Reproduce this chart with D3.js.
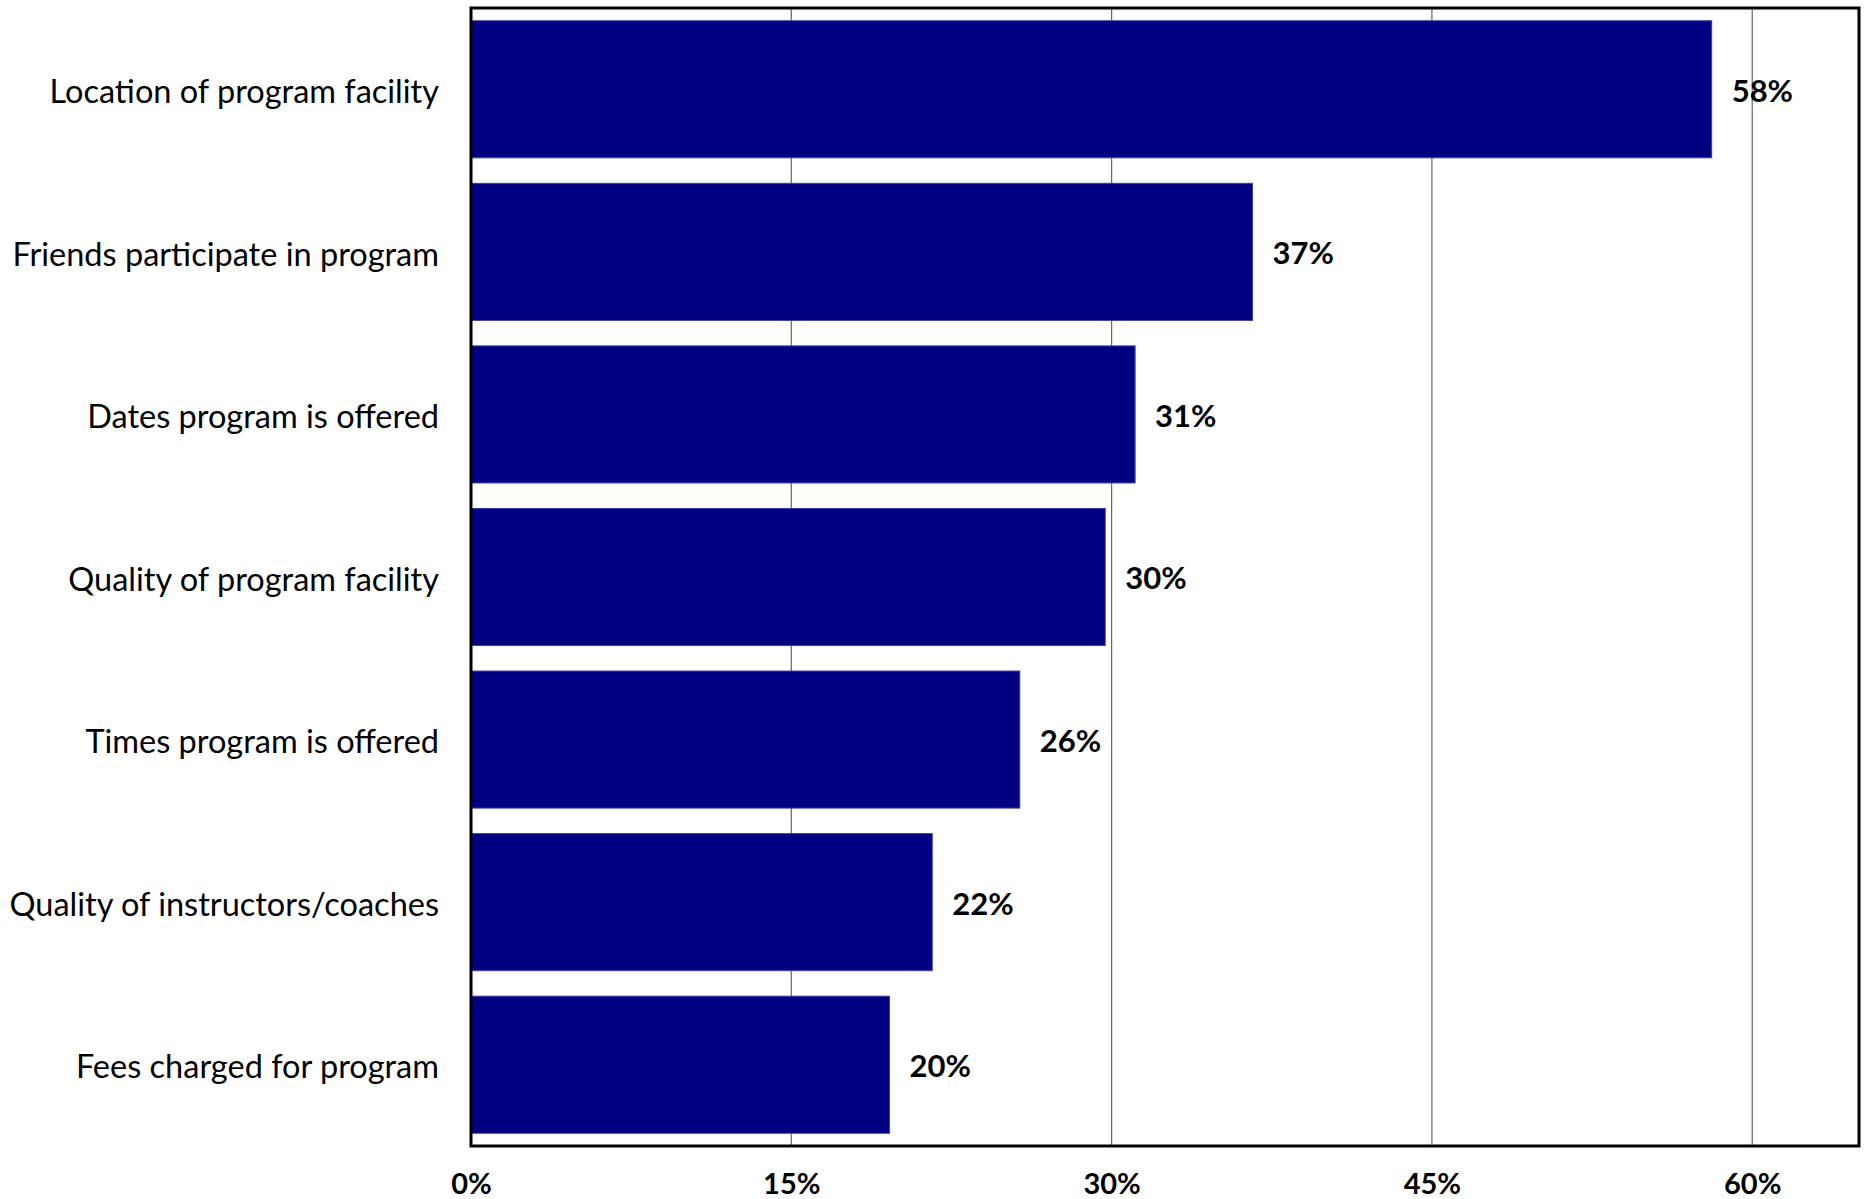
<!DOCTYPE html>
<html>
<head>
<meta charset="utf-8">
<script src="https://cdn.jsdelivr.net/npm/d3@7"></script>
<style>
  html, body { margin: 0; padding: 0; background: #ffffff; }
  svg { display: block; }
  text { font-family: Lato, "Open Sans", sans-serif; fill: #000; }
</style>
</head>
<body>
<svg id="chart" width="1864" height="1199"></svg>
<script>
// Reasons for choosing a program (share of respondents, %)
const categories = [
  "Location of program facility",
  "Friends participate in program",
  "Dates program is offered",
  "Quality of program facility",
  "Times program is offered",
  "Quality of instructors/coaches",
  "Fees charged for program"
];
const shares = [58.1, 36.6, 31.1, 29.7, 25.7, 21.6, 19.6];
const tickValues = [0, 15, 30, 45, 60];

const data = categories.map((c, i) => ({ category: c, value: shares[i] }));

const svg = d3.select("#chart");
const plot = { left: 471, right: 1859, top: 8, bottom: 1146 };

const x = d3.scaleLinear().domain([0, 65]).range([plot.left, plot.right]);
const y = d3.scaleBand()
  .domain(categories)
  .range([plot.top, plot.bottom])
  .paddingInner(0.157)
  .paddingOuter(0.0785);

const pct = v => d3.format(".0f")(v) + "%";

// vertical gridlines behind the bars
svg.append("g")
  .selectAll("line")
  .data(tickValues.filter(t => t > 0))
  .join("line")
  .attr("x1", d => x(d)).attr("x2", d => x(d))
  .attr("y1", plot.top).attr("y2", plot.bottom)
  .attr("stroke", "#666666")
  .attr("stroke-width", 1.2);

// bars
svg.append("g")
  .selectAll("rect")
  .data(data)
  .join("rect")
  .attr("x", x(0))
  .attr("y", d => y(d.category))
  .attr("width", d => x(d.value) - x(0))
  .attr("height", y.bandwidth())
  .attr("fill", "#000080")
  .attr("stroke", "#3a3aa8")
  .attr("stroke-width", 1);

// value labels
svg.append("g")
  .selectAll("text")
  .data(data)
  .join("text")
  .attr("x", d => x(d.value) + 20)
  .attr("y", d => y(d.category) + y.bandwidth() / 2)
  .attr("dy", "0.4em")
  .attr("font-size", 31)
  .attr("font-weight", "bold")
  .text(d => pct(d.value));

// category axis labels
const yAxis = d3.axisLeft(y).tickSize(0).tickPadding(32);
const gy = svg.append("g")
  .attr("transform", `translate(${plot.left},0)`)
  .call(yAxis);
gy.select(".domain").remove();
gy.selectAll("text")
  .attr("font-size", 32.5)
  .attr("dy", "0.42em")
  .attr("font-family", "Lato, 'Open Sans', sans-serif")
  .attr("fill", "#000");

// value axis tick labels
const xAxis = d3.axisBottom(x).tickValues(tickValues).tickSize(0).tickPadding(27).tickFormat(pct);
const gx = svg.append("g")
  .attr("transform", `translate(0,${plot.bottom})`)
  .call(xAxis);
gx.select(".domain").remove();
gx.selectAll("text")
  .attr("font-size", 29)
  .attr("font-weight", "bold")
  .attr("font-family", "Lato, 'Open Sans', sans-serif")
  .attr("fill", "#000");

// plot frame
svg.append("rect")
  .attr("x", plot.left)
  .attr("y", plot.top)
  .attr("width", plot.right - plot.left)
  .attr("height", plot.bottom - plot.top)
  .attr("fill", "none")
  .attr("stroke", "#000")
  .attr("stroke-width", 3);
</script>
</body>
</html>
